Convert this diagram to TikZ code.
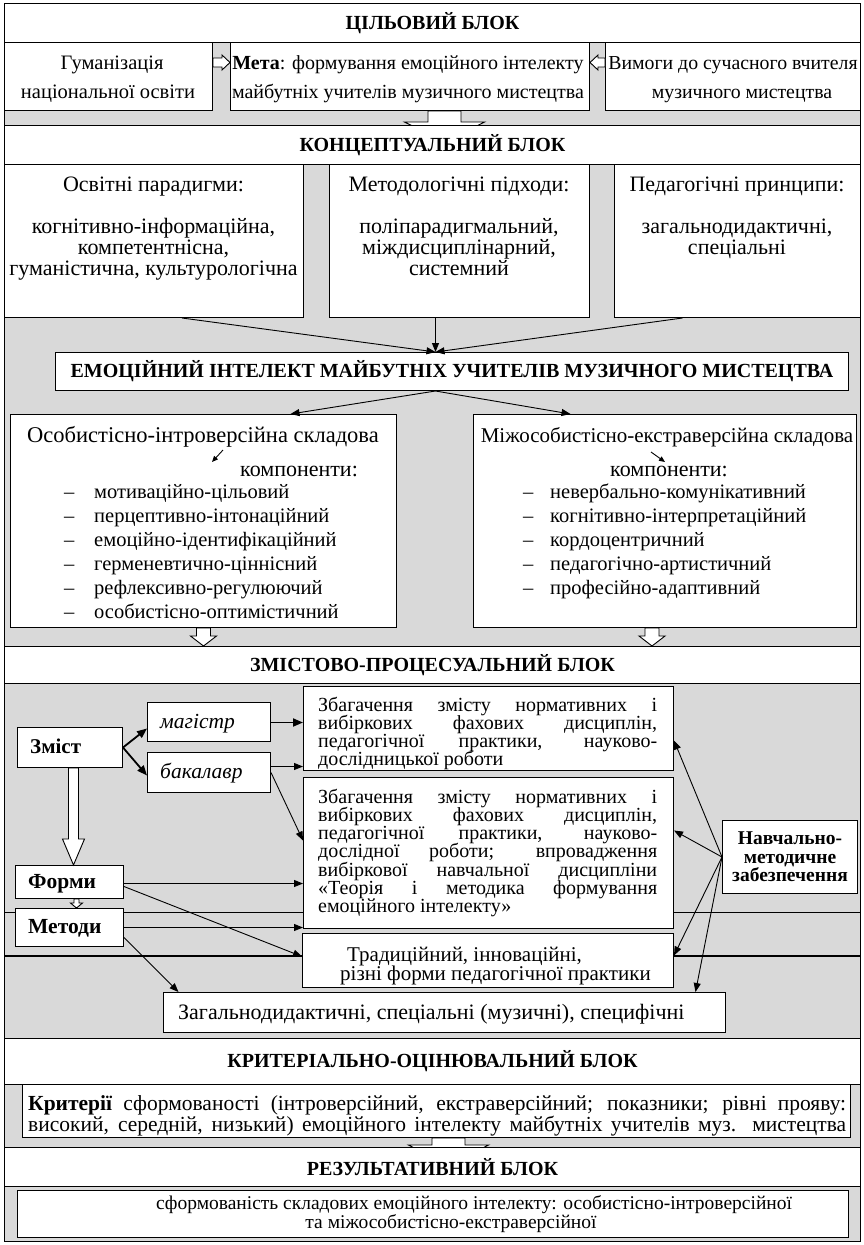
\documentclass[tikz,border=0pt]{standalone}
\usepackage{fontspec}
\setmainfont{Liberation Serif}
\usetikzlibrary{arrows.meta,calc}
\definecolor{bggray}{RGB}{217,217,217}
\tikzset{
  box/.style={draw=black, fill=white, line width=1pt, inner sep=0pt, anchor=north west},
  tt/.style={font=\fontsize{20}{22}\selectfont, inner sep=0pt},
  ttb/.style={font=\bfseries\fontsize{20}{22}\selectfont, inner sep=0pt},
  tti/.style={font=\itshape\fontsize{21.5}{22}\selectfont, inner sep=0pt},
  arr/.style={-{Triangle[length=9pt,width=7pt]}, line width=0.9pt},
  tarr/.style={-{Triangle[length=10pt,width=8pt]}, line width=1.8pt},
  sarr/.style={-{Triangle[length=6pt,width=5pt]}, line width=0.9pt},
  hollow/.style={draw=black, fill=white, line width=0.9pt},
}
\newcommand\fs[1]{\fontsize{#1}{#1}\selectfont}
\newcommand\txl[5][base]{\node[tt,anchor=#1] (#2) at (#3,#4+6) {#5};}
\newcommand\txb[5][base]{\node[ttb,anchor=#1] (#2) at (#3,#4+6) {#5};}
\newcommand\txi[5][base]{\node[tti,anchor=#1] (#2) at (#3,#4+6) {#5};}
\newcommand\jln[5]{\node[tt,anchor=base west] (#1) at (#2,#3+6) {\makebox[#4pt][s]{#5}};}
\newcommand\blockdown[5]{\draw[hollow] let \p1=(#1),\p2=(#2) in (\x1-#3pt,\y1) -- (\x1+#3pt,\y1) -- (\x1+#3pt,\y2+#5pt) -- (\x1+#4pt,\y2+#5pt) -- (\x1,\y2) -- (\x1-#4pt,\y2+#5pt) -- (\x1-#3pt,\y2+#5pt) -- cycle;}
\newcommand\blockright[5]{\draw[hollow] let \p1=(#1),\p2=(#2) in (\x1,\y1+#3pt) -- (\x2-#5pt,\y1+#3pt) -- (\x2-#5pt,\y1+#4pt) -- (\x2,\y1) -- (\x2-#5pt,\y1-#4pt) -- (\x2-#5pt,\y1-#3pt) -- (\x1,\y1-#3pt) -- cycle;}
\newcommand\blockleft[5]{\draw[hollow] let \p1=(#1),\p2=(#2) in (\x1,\y1+#3pt) -- (\x2+#5pt,\y1+#3pt) -- (\x2+#5pt,\y1+#4pt) -- (\x2,\y1) -- (\x2+#5pt,\y1-#4pt) -- (\x2+#5pt,\y1-#3pt) -- (\x1,\y1-#3pt) -- cycle;}
\begin{document}
\begin{tikzpicture}[x=1pt,y=-1pt]
\useasboundingbox (0,0) rectangle (863,1245);
\fill[bggray] (4,3) rectangle (860,1241);
% stray full-width lines behind the boxes
\coordinate (la) at (4,912); \coordinate (lb) at (860,912);
\draw[line width=0.8pt] (la) -- (lb);
\coordinate (lc) at (4,956); \coordinate (ld) at (860,956);
\draw[line width=1.3pt] (lc) -- (ld);

% ---------- Цільовий блок
\node[box, minimum width=856pt, minimum height=39pt, ttb] (tb1) at (4,3) {ЦІЛЬОВИЙ БЛОК};
\node[box, minimum width=208pt, minimum height=68pt] (hum) at (4,42) {};
\txl{hum1}{112}{63}{\fs{20.5}Гуманізація}
\txl{hum2}{108}{92}{\fs{20.5}національної освіти}
\node[box, minimum width=359pt, minimum height=68pt] (meta) at (230,42) {};
\txl{meta1}{408}{63}{\fs{20}\textbf{Мета}: формування емоційного інтелекту}
\txl{meta2}{408}{92}{\fs{20}майбутніх учителів музичного мистецтва}
\node[box, minimum width=255pt, minimum height=68pt] (vym) at (605,42) {};
\txl{vym1}{733}{63}{\fs{19.8}Вимоги до сучасного вчителя}
\txl{vym2}{742}{92}{\fs{19.8}музичного мистецтва}
\blockright{[yshift=14pt]hum.east}{[yshift=14pt]meta.west}{4.5}{7.5}{8}
\blockleft{[yshift=14pt]vym.west}{[yshift=14pt]meta.east}{4.5}{7.5}{8}
\blockdown{[xshift=34.5pt]meta.south}{[xshift=34.5pt,yshift=-31pt]meta.south}{16.5}{40}{20}

% ---------- Концептуальний блок
\node[box, minimum width=856pt, minimum height=39pt, ttb] (tb2) at (4,125) {КОНЦЕПТУАЛЬНИЙ БЛОК};
\node[box, minimum width=299pt, minimum height=153pt] (par) at (4,164) {};
\txl{p1}{153.5}{185}{\fs{22}Освітні парадигми:}
\txl{p2}{153.5}{227}{\fs{22}когнітивно-інформаційна,}
\txl{p3}{153.5}{248}{\fs{22}компетентнісна,}
\txl{p4}{153.5}{269}{\fs{22}гуманістична, культурологічна}
\node[box, minimum width=260pt, minimum height=153pt] (meth) at (329,164) {};
\txl{m1}{459}{185}{\fs{22}Методологічні підходи:}
\txl{m2}{459}{227}{\fs{22}поліпарадигмальний,}
\txl{m3}{459}{248}{\fs{22}міждисциплінарний,}
\txl{m4}{459}{269}{\fs{22}системний}
\node[box, minimum width=246pt, minimum height=153pt] (princ) at (614,164) {};
\txl{r1}{737}{185}{\fs{22}Педагогічні принципи:}
\txl{r2}{737}{227}{\fs{22}загальнодидактичні,}
\txl{r3}{737}{248}{\fs{22}спеціальні}

\node[box, minimum width=793pt, minimum height=38pt, ttb] (ei) at (55,352) {ЕМОЦІЙНИЙ ІНТЕЛЕКТ МАЙБУТНІХ УЧИТЕЛІВ МУЗИЧНОГО МИСТЕЦТВА};
\draw[arr] ([xshift=28pt]par.south) -- ([xshift=-16.5pt]ei.north);
\draw[arr] ([xshift=-24pt]meth.south) -- ([xshift=-16.5pt]ei.north);
\draw[arr] ([xshift=-55pt]princ.south) -- ([xshift=-16.5pt]ei.north);

% components
\node[box, minimum width=386pt, minimum height=213pt] (comp1) at (10,414) {};
\txl{c1h}{203}{436}{\fs{22.5}Особистісно-інтроверсійна складова}
\txl[base west]{c1k}{240}{470}{\fs{22}компоненти:}
\txl[base west]{c1a}{64}{492}{\fs{20.5}\makebox[30pt][l]{–}мотиваційно-цільовий}
\txl[base west]{c1b}{64}{516}{\fs{20.5}\makebox[30pt][l]{–}перцептивно-інтонаційний}
\txl[base west]{c1c}{64}{540}{\fs{20.5}\makebox[30pt][l]{–}емоційно-ідентифікаційний}
\txl[base west]{c1d}{64}{564}{\fs{20.5}\makebox[30pt][l]{–}герменевтично-ціннісний}
\txl[base west]{c1e}{64}{588}{\fs{20.5}\makebox[30pt][l]{–}рефлексивно-регулюючий}
\txl[base west]{c1f}{64}{612}{\fs{20.5}\makebox[30pt][l]{–}особистісно-оптимістичний}
\node[box, minimum width=383pt, minimum height=213pt] (comp2) at (473,414) {};
\txl{c2h}{667}{436}{\fs{21}Міжособистісно-екстраверсійна складова}
\txl{c2k}{669}{470}{\fs{22}компоненти:}
\txl[base west]{c2a}{523}{492}{\fs{20.5}\makebox[27pt][l]{–}невербально-комунікативний}
\txl[base west]{c2b}{523}{516}{\fs{20.5}\makebox[27pt][l]{–}когнітивно-інтерпретаційний}
\txl[base west]{c2c}{523}{540}{\fs{20.5}\makebox[27pt][l]{–}кордоцентричний}
\txl[base west]{c2d}{523}{564}{\fs{20.5}\makebox[27pt][l]{–}педагогічно-артистичний}
\txl[base west]{c2e}{523}{588}{\fs{20.5}\makebox[27pt][l]{–}професійно-адаптивний}
\coordinate (s1a) at (223,450); \coordinate (s1b) at (212,462);
\draw[sarr] (s1a) -- (s1b);
\coordinate (s2a) at (651,452); \coordinate (s2b) at (665,462);
\draw[sarr] (s2a) -- (s2b);
\draw[arr] ([xshift=-16.5pt]ei.south) -- ([xshift=87pt]comp1.north);
\draw[arr] ([xshift=-16.5pt]ei.south) -- ([xshift=-94.5pt]comp2.north);

% ---------- Змістово-процесуальний блок
\node[box, minimum width=856pt, minimum height=37pt, ttb] (tb3) at (4,646) {ЗМІСТОВО-ПРОЦЕСУАЛЬНИЙ БЛОК};
\blockdown{comp1.south}{[xshift=-229pt]tb3.north}{7}{13}{10}
\blockdown{[xshift=-13pt]comp2.south}{[xshift=219.5pt]tb3.north}{7}{13}{10}

\node[box, minimum width=105pt, minimum height=40pt] (zm) at (17,727) {};
\txb[base west]{zmt}{30}{747}{\fs{21}Зміст}
\node[box, minimum width=123pt, minimum height=39pt] (mag) at (147,702) {};
\txi[base west]{magt}{160}{722}{магістр}
\node[box, minimum width=123pt, minimum height=40pt] (bak) at (147,752) {};
\txi[base west]{bakt}{160}{772}{бакалавр}

\node[box, minimum width=370pt, minimum height=84pt] (zb1) at (303,686) {};
\jln{z1a}{318}{705}{339}{Збагачення змісту нормативних і}
\jln{z1b}{318}{723}{339}{вибіркових фахових дисциплін,}
\jln{z1c}{318}{741}{339}{педагогічної практики, науково-}
\txl[base west]{z1d}{318}{759}{дослідницької роботи}

\node[box, minimum width=370pt, minimum height=151pt] (zb2) at (303,777) {};
\jln{z2a}{318}{797}{339}{Збагачення змісту нормативних і}
\jln{z2b}{318}{815.3}{339}{вибіркових фахових дисциплін,}
\jln{z2c}{318}{833.6}{339}{педагогічної практики, науково-}
\jln{z2d}{318}{851.9}{339}{дослідної роботи; впровадження}
\jln{z2e}{318}{870.2}{339}{вибіркової навчальної дисципліни}
\jln{z2f}{318}{888.5}{339}{«Теорія і методика формування}
\txl[base west]{z2g}{318}{906.8}{емоційного інтелекту»}

\node[box, minimum width=108pt, minimum height=33pt] (forms) at (15,865) {};
\txb[base west]{formst}{28}{882}{\fs{21.5}Форми}
\node[box, minimum width=108pt, minimum height=38pt] (methods) at (15,908) {};
\txb[base west]{methodst}{28}{927}{\fs{21.5}Методи}

\node[box, minimum width=371pt, minimum height=54pt] (trad) at (302,933) {};
\txl[base west]{tr1}{347}{955}{\fs{21}Традиційний, інноваційні,}
\txl[base west]{tr2}{340}{974}{\fs{21}різні форми педагогічної практики}

\node[box, minimum width=562pt, minimum height=40pt] (zag) at (163,992) {};
\txl[base west]{zagt}{178}{1013}{\fs{22}Загальнодидактичні, спеціальні (музичні), специфічні}

\node[box, minimum width=135pt, minimum height=73pt, align=center, font=\bfseries\fontsize{19.5}{18.5}\selectfont] (navch) at (722,820) {Навчально-\\методичне\\забезпечення};

\blockdown{[xshift=3.5pt]zm.south}{[xshift=4pt]forms.north}{5}{11}{26}
\blockdown{[xshift=7pt]forms.south}{[xshift=7pt]methods.north}{2.5}{6}{5}

\draw[tarr] (zm.east) -- ([yshift=-6.5pt]mag.west);
\draw[tarr] (zm.east) -- ([yshift=-3pt]bak.west);
\draw[tarr] ([yshift=-0.5pt]mag.east) -- ([yshift=6pt]zb1.west);
\draw[arr] ([yshift=6pt]bak.east) -- ([yshift=-38pt]zb1.west);
\draw[arr] (bak.east) -- ([yshift=12.5pt]zb2.west);
\draw[arr] ([yshift=-1.5pt]forms.east) -- ([yshift=-30.5pt]zb2.west);
\draw[arr] ([yshift=-4.5pt]forms.east) -- ([yshift=4pt]trad.west);
\draw[arr] (methods.east) -- ([yshift=-74.5pt]zb2.west);
\draw[arr] ([yshift=-10pt]methods.east) -- ([xshift=-266pt]zag.north);
\draw[arr] (navch.west) -- ([yshift=-12pt]zb1.east);
\draw[arr] (navch.west) -- ([yshift=22.5pt]zb2.east);
\draw[arr] (navch.west) -- ([yshift=5pt]trad.east);
\draw[arr] (navch.west) -- ([xshift=251pt]zag.north);

% ---------- Критеріально-оцінювальний блок
\node[box, minimum width=856pt, minimum height=46pt, ttb] (tb4) at (4,1038) {КРИТЕРІАЛЬНО-ОЦІНЮВАЛЬНИЙ БЛОК};
\node[box, minimum width=828pt, minimum height=53pt] (krit) at (22,1084) {};
\jln{kr1}{28}{1104}{818}{\fs{21.5}\textbf{Критерії} сформованості (інтроверсійний, екстраверсійний; показники; рівні прояву:}
\jln{kr2}{28}{1125}{818}{\fs{21.5}високий, середній, низький) емоційного інтелекту майбутніх учителів муз. мистецтва}
\blockdown{[xshift=12pt]krit.south}{[xshift=12pt,yshift=-27pt]krit.south}{16.5}{40}{20}

% ---------- Результативний блок
\node[box, minimum width=856pt, minimum height=39pt, ttb] (tb5) at (4,1147) {РЕЗУЛЬТАТИВНИЙ БЛОК};
\node[box, minimum width=831pt, minimum height=47pt] (res) at (17,1190) {};
\txl{rs1}{474}{1203}{\fs{19.5}сформованість складових емоційного інтелекту: особистісно-інтроверсійної}
\txl{rs2}{451}{1222}{\fs{19.5}та міжособистісно-екстраверсійної}

\draw[line width=1pt] (4,3) rectangle (860,1241);
\end{tikzpicture}
\end{document}
